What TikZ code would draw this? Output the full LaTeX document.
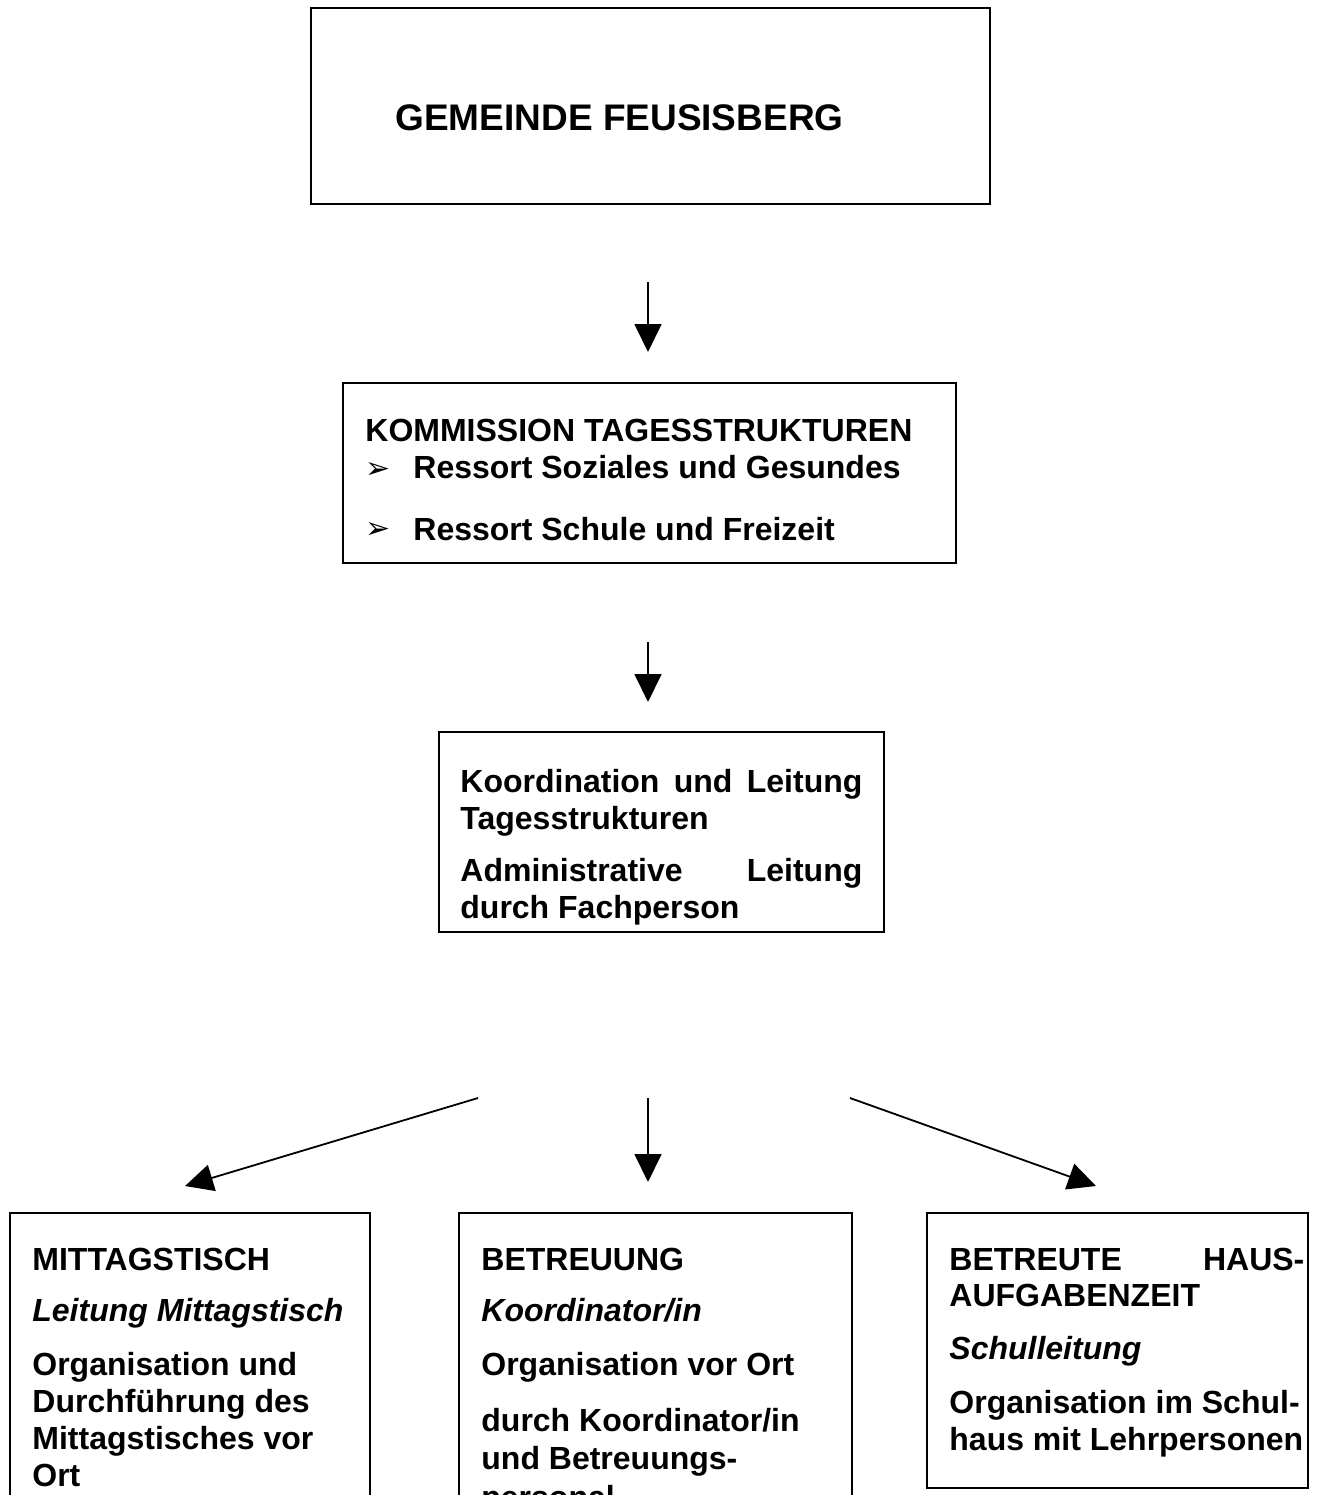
\documentclass[tikz,border=0pt]{standalone}
\usepackage{fontspec}
\setmainfont{Liberation Sans}
\newfontfamily\pfeilfont{DejaVu Sans}
\usetikzlibrary{arrows.meta}

\tikzset{kasten/.style={draw,line width=1pt,inner sep=0pt},
         zeile/.style={anchor=base west,inner sep=0pt,font=\bfseries\fontsize{16pt}{19pt}\selectfont},
         aufzaehlung/.style={anchor=base west,inner sep=0pt,font=\pfeilfont\fontsize{15pt}{18pt}\selectfont},
         pfeil/.style={line width=0.9pt,-{Triangle[width=13.5pt,length=14pt]}}}

\begin{document}
\begin{tikzpicture}[x=0.5pt,y=-0.5pt]
\useasboundingbox (0,0) rectangle (1332,1495);
\clip (0,0) rectangle (1332,1495);
% Kaesten
\node[kasten,minimum width=339.5pt,minimum height=98pt] (gemeinde) at (650.5,106) {};
\node[kasten,minimum width=306.5pt,minimum height=90pt] (kommission) at (649.5,473) {};
\node[kasten,minimum width=222.5pt,minimum height=100pt] (leitung) at (661.5,832) {};
\node[kasten,minimum width=180pt,minimum height=150pt] (mittag) at (190,1363) {};
\node[kasten,minimum width=196.5pt,minimum height=150pt] (betreuung) at (655.5,1363) {};
\node[kasten,minimum width=190.5pt,minimum height=137.5pt] (hausaufgaben) at (1117.5,1350.5) {};
% Texte
\node[zeile,font=\bfseries\fontsize{18.5pt}{22pt}\selectfont] (titel) at (395,130) {GEMEINDE FEUSISBERG};
\node[zeile] (kom1) at (365,441) {KOMMISSION TAGESSTRUKTUREN};
\node[aufzaehlung] (b1) at (365,478) {➢};
\node[zeile] (kom2) at (413,478) {Ressort Soziales und Gesundes};
\node[aufzaehlung] (b2) at (365,538) {➢};
\node[zeile] (kom3) at (413,540) {Ressort Schule und Freizeit};
\node[zeile] (lei1) at (460,792) {\makebox[201pt][s]{Koordination und Leitung}};
\node[zeile] (lei2) at (460,829) {Tagesstrukturen};
\node[zeile] (lei3) at (460,881) {\makebox[201pt][s]{Administrative Leitung}};
\node[zeile] (lei4) at (460,918) {durch Fachperson};
\node[zeile] (m1) at (32,1270) {MITTAGSTISCH};
\node[zeile,font=\bfseries\itshape\fontsize{16pt}{19pt}\selectfont] (m2) at (32,1321) {Leitung Mittagstisch};
\node[zeile] (m3) at (32,1375) {Organisation und};
\node[zeile] (m4) at (32,1412) {Durchführung des};
\node[zeile] (m5) at (32,1449) {Mittagstisches vor};
\node[zeile] (m6) at (32,1486) {Ort};
\node[zeile] (bt1) at (481,1270) {BETREUUNG};
\node[zeile,font=\bfseries\itshape\fontsize{16pt}{19pt}\selectfont] (bt2) at (481,1321) {Koordinator/in};
\node[zeile] (bt3) at (481,1375) {Organisation vor Ort};
\node[zeile] (bt4) at (481,1431) {durch Koordinator/in};
\node[zeile] (bt5) at (481,1469) {und Betreuungs-};
\node[zeile] (bt6) at (481,1508) {personal};
\node[zeile] (h1) at (949,1270) {\makebox[177.5pt][s]{BETREUTE HAUS-}};
\node[zeile] (h2) at (949,1306) {AUFGABENZEIT};
\node[zeile,font=\bfseries\itshape\fontsize{16pt}{19pt}\selectfont] (h3) at (949,1359) {Schulleitung};
\node[zeile] (h4) at (949,1413) {Organisation im Schul-};
\node[zeile] (h5) at (949,1450) {haus mit Lehrpersonen};
% Pfeile
\coordinate (p1a) at (648,282);  \coordinate (p1b) at (648,352);
\coordinate (p2a) at (648,642);  \coordinate (p2b) at (648,702);
\coordinate (p3a) at (478,1098); \coordinate (p3b) at (185,1186);
\coordinate (p4a) at (648,1098); \coordinate (p4b) at (648,1182);
\coordinate (p5a) at (850,1098); \coordinate (p5b) at (1096,1186);
\draw[pfeil] (p1a) -- (p1b);
\draw[pfeil] (p2a) -- (p2b);
\draw[pfeil] (p3a) -- (p3b);
\draw[pfeil] (p4a) -- (p4b);
\draw[pfeil] (p5a) -- (p5b);
\end{tikzpicture}
\end{document}
